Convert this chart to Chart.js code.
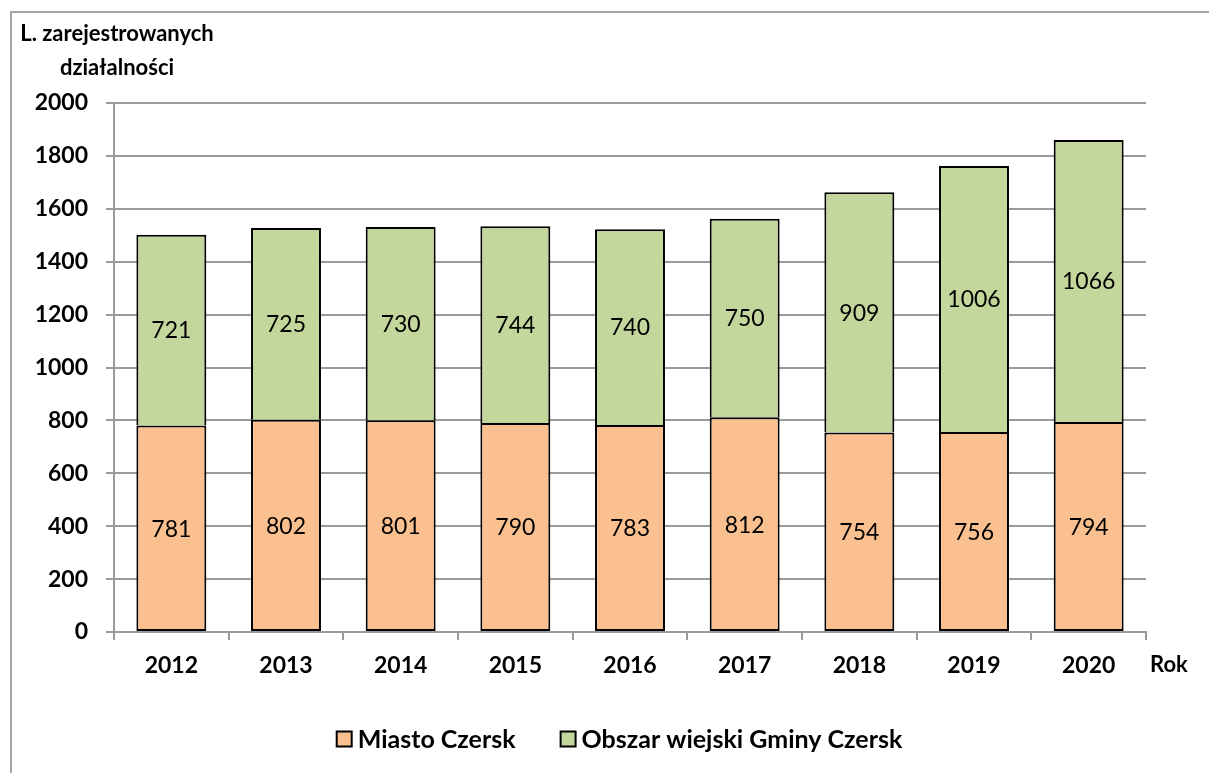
<!DOCTYPE html>
<html>
<head>
<meta charset="utf-8">
<script src="https://cdn.jsdelivr.net/npm/chart.js@4"></script>
<style>
  body { margin: 0; background: #fff; }
  #wrap { width: 1209px; height: 773px; position: relative; }
</style>
</head>
<body>
<div id="wrap"><canvas id="czersk"></canvas></div>
<script>
const years = ["2012", "2013", "2014", "2015", "2016", "2017", "2018", "2019", "2020"];
const miasto = [781, 802, 801, 790, 783, 812, 754, 756, 794];
const wies = [721, 725, 730, 744, 740, 750, 909, 1006, 1066];
const seriesNames = ["Miasto Czersk", "Obszar wiejski Gminy Czersk"];
const yTitle = ["L. zarejestrowanych", "działalności"];
const xTitle = "Rok";

const FONT = "Lato, 'Open Sans', sans-serif";
const gridGray = "#9a9a9a";

// frame, axis titles, legend and values inside bars
const extras = {
  id: "extras",
  beforeDraw(chart) {
    const ctx = chart.ctx;
    ctx.save();
    ctx.fillStyle = "#fff";
    ctx.fillRect(0, 0, chart.width, chart.height);
    ctx.strokeStyle = "#a6a6a6";
    ctx.lineWidth = 2;
    ctx.beginPath();
    ctx.moveTo(1209, 12);
    ctx.lineTo(11, 12);
    ctx.lineTo(11, 773);
    ctx.stroke();
    ctx.restore();
  },
  afterDatasetsDraw(chart) {
    const ctx = chart.ctx;
    ctx.save();
    ctx.fillStyle = "#000";
    ctx.textAlign = "center";
    ctx.textBaseline = "middle";
    ctx.font = "23px " + FONT;
    chart.data.datasets.forEach((ds, i) => {
      chart.getDatasetMeta(i).data.forEach((bar, j) => {
        const y = (bar.y + bar.base) / 2;
        ctx.fillText(String(ds.data[j]), bar.x, y + 1);
      });
    });
    ctx.restore();
  },
  afterDraw(chart) {
    const ctx = chart.ctx;
    ctx.save();
    ctx.fillStyle = "#000";
    ctx.textBaseline = "middle";
    ctx.font = "bold 22px " + FONT;
    ctx.textAlign = "center";
    ctx.fillText(yTitle[0], 117, 34);
    ctx.fillText(yTitle[1], 117, 68);
    ctx.textAlign = "left";
    ctx.fillText(xTitle, 1150, 665);

    // legend
    ctx.font = "bold 25px " + FONT;
    const box = 15, gapText = 6, gapItem = 45;
    const widths = seriesNames.map(t => ctx.measureText(t).width);
    const total = widths.reduce((a, w) => a + box + gapText + w, 0) + gapItem;
    let x = 619.5 - total / 2;
    const cy = 739;
    chart.data.datasets.forEach((ds, i) => {
      ctx.fillStyle = ds.backgroundColor;
      ctx.fillRect(x, cy - box / 2, box, box);
      ctx.strokeStyle = "#000";
      ctx.lineWidth = 2;
      ctx.strokeRect(x, cy - box / 2, box, box);
      ctx.fillStyle = "#000";
      ctx.fillText(seriesNames[i], x + box + gapText, cy + 1);
      x += box + gapText + widths[i] + gapItem;
    });
    ctx.restore();
  }
};

new Chart(document.getElementById("czersk"), {
  type: "bar",
  data: {
    labels: years,
    datasets: [{
      label: seriesNames[0],
      data: miasto,
      backgroundColor: "#FAC090",
      borderColor: "#000",
      borderWidth: 2,
      borderSkipped: false,
      barPercentage: 0.61,
      categoryPercentage: 1
    }, {
      label: seriesNames[1],
      data: wies,
      backgroundColor: "#C3D69B",
      borderColor: "#000",
      borderWidth: 2,
      borderSkipped: "bottom",
      barPercentage: 0.61,
      categoryPercentage: 1
    }]
  },
  options: {
    responsive: true,
    maintainAspectRatio: false,
    animation: false,
    layout: { padding: { left: 0, top: 103, right: 63, bottom: 91 } },
    plugins: {
      legend: { display: false },
      tooltip: { enabled: false }
    },
    scales: {
      x: {
        stacked: true,
        offset: true,
        afterFit: (s) => { s.height = 50; },
        border: { color: gridGray, width: 2 },
        grid: { offset: true, drawOnChartArea: false, drawTicks: true, tickLength: 8, color: gridGray, lineWidth: 2 },
        ticks: { color: "#000", padding: 12, font: { family: FONT, size: 23, weight: "bold" }, maxRotation: 0 }
      },
      y: {
        stacked: true,
        min: 0,
        max: 2000,
        afterFit: (s) => { s.width = 114; },
        border: { color: gridGray, width: 2 },
        grid: { color: gridGray, lineWidth: 2, tickLength: 8 },
        ticks: {
          stepSize: 200, color: "#000", padding: 18,
          font: { family: FONT, size: 23, weight: "bold" },
          callback: (v) => String(v)
        }
      }
    }
  },
  plugins: [extras]
});
</script>
</body>
</html>
